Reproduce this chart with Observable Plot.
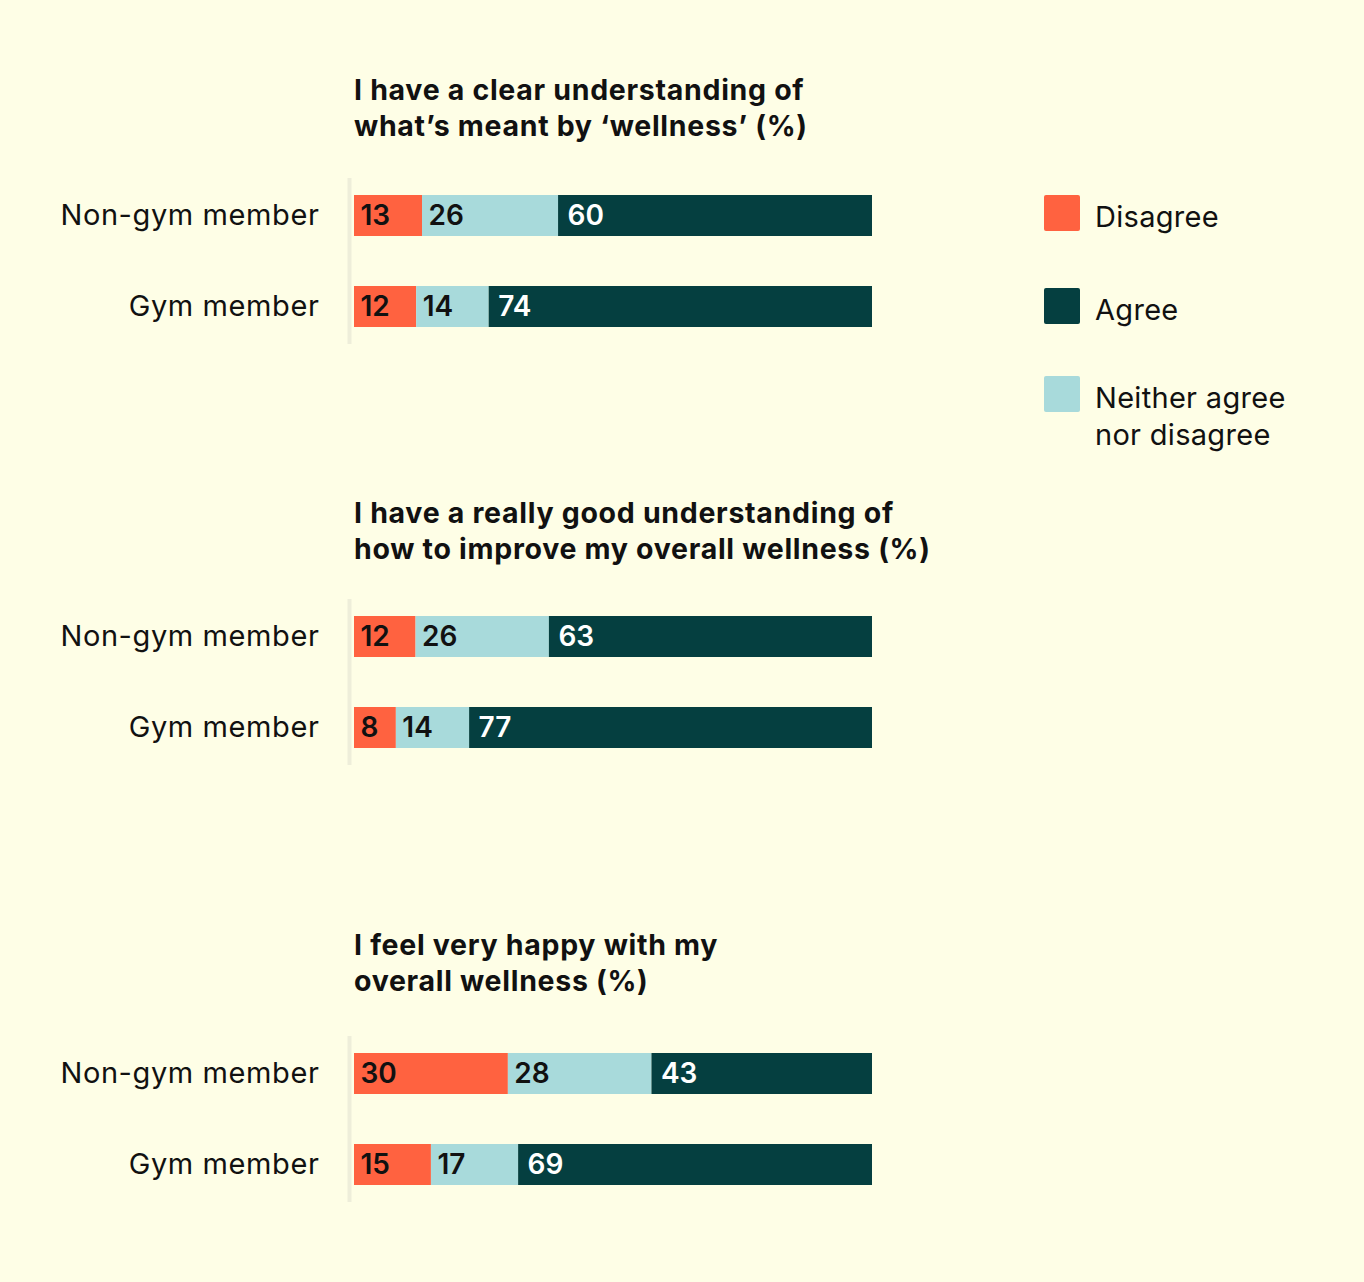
<!DOCTYPE html>
<html>
<head>
<meta charset="utf-8">
<script src="https://cdn.jsdelivr.net/npm/d3@7"></script>
<script src="https://cdn.jsdelivr.net/npm/@observablehq/plot@0.6"></script>
<style>
  html, body { margin: 0; padding: 0; background: #FEFEE6; }
  #page { position: relative; width: 1364px; height: 1282px; background: #FEFEE6; font-family: Inter, "Open Sans", sans-serif; color: #111; }
  .title { position: absolute; left: 354px; font-size: 28.5px; font-weight: 700; line-height: 36px; color: #111; letter-spacing: 0.7px; white-space: nowrap; }
  .chart { position: absolute; left: 0; }
  .chart g[aria-label="y-axis tick label"] text { letter-spacing: 0.6px; }
  .legend { position: absolute; left: 1044px; top: 195px; }
  .legend .item { position: absolute; left: 0; white-space: nowrap; }
  .legend .sw { position: absolute; left: 0; top: 0; width: 36px; height: 36px; border-radius: 2px; }
  .legend .lb { position: absolute; left: 51px; font-size: 29px; line-height: 37px; color: #111; letter-spacing: 0.3px; }
</style>
</head>
<body>
<div id="page"></div>
<script>
const questions = [
  "I have a clear understanding of\nwhat’s meant by ‘wellness’ (%)",
  "I have a really good understanding of\nhow to improve my overall wellness (%)",
  "I feel very happy with my\noverall wellness (%)"
];
const groups = ["Non-gym member", "Gym member"];
const responses = ["Disagree", "Neither agree nor disagree", "Agree"];
const colors = ["#FF6240", "#A8DADB", "#053F40"];
const disagree = [[13, 12], [12, 8], [30, 15]];
const neither = [[26, 14], [26, 14], [28, 17]];
const agree = [[60, 74], [63, 77], [43, 69]];
const legendOrder = ["Disagree", "Agree", "Neither agree nor disagree"];
const legendLabels = ["Disagree", "Agree", "Neither agree\nnor disagree"];

const titleTops = [72, 495, 927];
const chartTops = [178, 599, 1036];

const page = document.getElementById("page");

questions.forEach((q, qi) => {
  const t = document.createElement("div");
  t.className = "title";
  t.style.top = titleTops[qi] + "px";
  t.innerHTML = q.split("\n").join("<br>");
  page.appendChild(t);

  const data = groups.flatMap((g, i) => [
    {group: g, response: responses[0], value: disagree[qi][i]},
    {group: g, response: responses[1], value: neither[qi][i]},
    {group: g, response: responses[2], value: agree[qi][i]}
  ]);

  const stackOpts = {offset: "normalize", x: "value", y: "group", order: responses, z: "response"};

  const chart = Plot.plot({
    width: 900,
    height: 166,
    marginLeft: 354,
    marginRight: 28,
    marginTop: 0,
    marginBottom: 0,
    style: {background: "transparent", fontFamily: "Inter, 'Open Sans', sans-serif", fontSize: "29px", color: "#111", overflow: "visible"},
    x: {domain: [0, 1], axis: null},
    y: {domain: groups, paddingInner: 0.55, paddingOuter: 0.187, label: null, tickSize: 0, tickPadding: 35},
    color: {domain: responses, range: colors},
    marks: [
      Plot.ruleX([0], {stroke: "#EEEEDA", strokeWidth: 4, dx: -5}),
      Plot.barX(data, Plot.stackX({...stackOpts, fill: "response"})),
      Plot.text(data, Plot.stackX1({...stackOpts, text: d => d.response === "Agree" ? "" : String(d.value), textAnchor: "start", dx: 6, fill: "#111", fontSize: 28, fontWeight: 600})),
      Plot.text(data, Plot.stackX1({...stackOpts, text: d => d.response === "Agree" ? String(d.value) : "", textAnchor: "start", dx: 9, fill: "#fff", fontSize: 28, fontWeight: 600}))
    ]
  });
  chart.classList.add("chart");
  chart.style.top = chartTops[qi] + "px";
  chart.style.position = "absolute";
  chart.style.left = "0px";
  page.appendChild(chart);
});

const legend = document.createElement("div");
legend.className = "legend";
const legendTops = [0, 93, 181];
legendOrder.forEach((r, i) => {
  const item = document.createElement("div");
  item.className = "item";
  item.style.top = legendTops[i] + "px";
  const sw = document.createElement("div");
  sw.className = "sw";
  sw.style.background = colors[responses.indexOf(r)];
  const lb = document.createElement("div");
  lb.className = "lb";
  lb.style.top = "3px";
  lb.innerHTML = legendLabels[i].split("\n").join("<br>");
  item.appendChild(sw);
  item.appendChild(lb);
  legend.appendChild(item);
});
page.appendChild(legend);
</script>
</body>
</html>
